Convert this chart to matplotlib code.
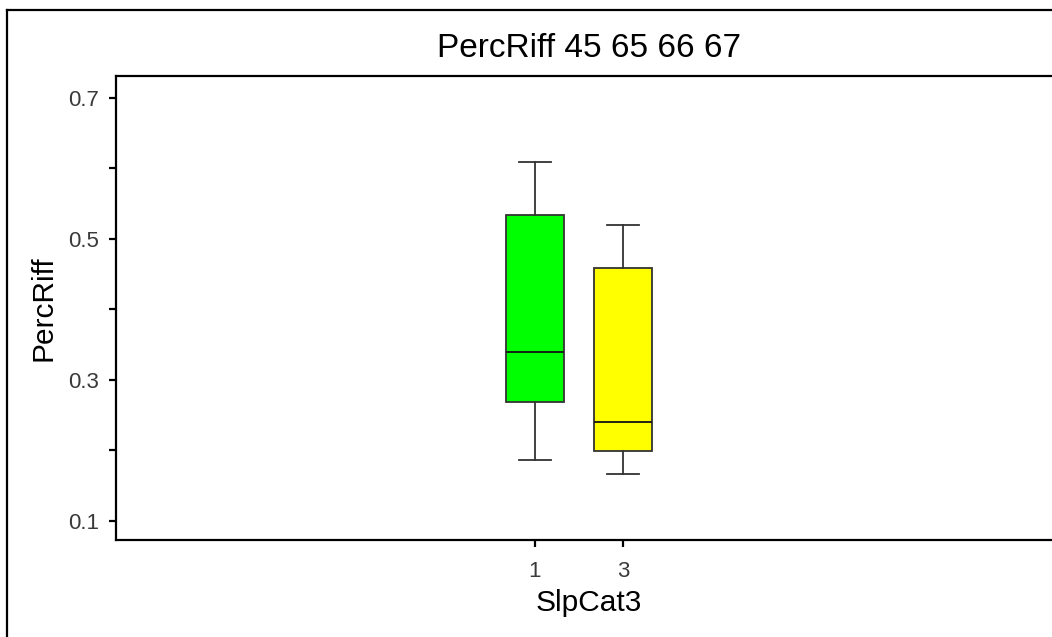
import matplotlib.pyplot as plt
from matplotlib.lines import Line2D

plt.rcParams['font.family'] = ['Liberation Sans', 'DejaVu Sans']

# box summary per slope category
categories = ['1', '3']
whislo = [0.187, 0.167]
q1 = [0.269, 0.199]
med = [0.340, 0.240]
q3 = [0.534, 0.459]
whishi = [0.609, 0.520]
colors = ['#00ff00', '#ffff00']

stats = [dict(label=c, whislo=lo, q1=a, med=m, q3=b, whishi=hi, fliers=[])
         for c, lo, a, m, b, hi in zip(categories, whislo, q1, med, q3, whishi)]

fig = plt.figure(figsize=(10.52, 6.37), dpi=100)
ax = fig.add_axes([116 / 1052, 97 / 637, 946 / 1052, 464 / 637])

edge = '#333333'
bp = ax.bxp(stats, positions=[1, 2], widths=0.67, patch_artist=True,
            capwidths=0.364,
            boxprops=dict(edgecolor=edge, linewidth=1.3),
            whiskerprops=dict(color=edge, linewidth=1.3),
            capprops=dict(color=edge, linewidth=1.3),
            medianprops=dict(color='#111111', linewidth=1.3))
for patch, c in zip(bp['boxes'], colors):
    patch.set_facecolor(c)

ax.set_xlim(1 - 419 / 88, 1 + 527 / 88)
ax.set_ylim(0.073, 0.731)
ax.set_yticks([0.1, 0.3, 0.5, 0.7])
ax.set_yticks([0.2, 0.4, 0.6], minor=True)
ax.set_yticklabels(['0.1', '0.3', '0.5', '0.7'])
ax.set_xticks([1, 2])
ax.set_xticklabels(categories)

ax.spines['right'].set_visible(False)
for s in ['left', 'bottom', 'top']:
    ax.spines[s].set_linewidth(1.6)
ax.tick_params(axis='both', which='both', direction='out', length=5, width=1.6,
               labelsize=16, labelcolor='#3a3a3a')
ax.tick_params(axis='y', which='both', pad=7)
ax.tick_params(axis='x', which='both', pad=10)

ax.set_title('PercRiff 45 65 66 67', fontsize=24, pad=14)
ax.set_xlabel('SlpCat3', fontsize=21.5, labelpad=5.5)
ax.set_ylabel('PercRiff', fontsize=21.5, labelpad=8)

# outer frame around the figure
fig.add_artist(Line2D([7 / 1052, 7 / 1052], [0, 1 - 9.5 / 637], color='black',
                      linewidth=1.6, transform=fig.transFigure))
fig.add_artist(Line2D([7 / 1052, 1], [1 - 9.5 / 637, 1 - 9.5 / 637], color='black',
                      linewidth=1.6, transform=fig.transFigure))

fig.savefig('out.png', dpi=100)
